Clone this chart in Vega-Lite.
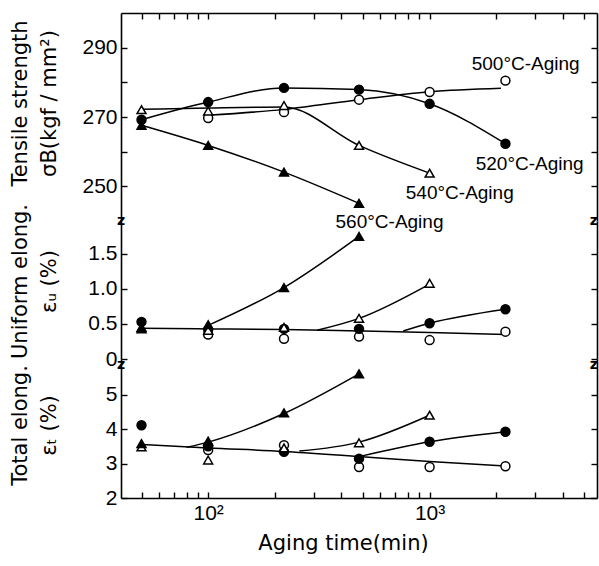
{
  "$schema": "https://vega.github.io/schema/vega-lite/v6.json",
  "padding": {"left": 8, "top": 12, "right": 2, "bottom": 4},
  "spacing": 0,
  "bounds": "flush",
  "config": {
    "view": {"stroke": null},
    "axis": {
      "grid": false,
      "domainColor": "black", "domainWidth": 1.6,
      "tickColor": "black", "tickWidth": 1.4, "tickSize": -6,
      "labelPadding": 10,
      "labelFont": "Liberation Sans", "labelFontSize": 21, "labelColor": "black",
      "titleFont": "DejaVu Sans", "titleFontSize": 21, "titleFontWeight": "normal", "titleColor": "black",
      "labelOverlap": false, "labelFlush": false
    }
  },
  "datasets": {
    "points": [
      {"panel": "T", "series": "500", "time": 100, "value": 269.7},
      {"panel": "T", "series": "500", "time": 220, "value": 271.4},
      {"panel": "T", "series": "500", "time": 480, "value": 275.0},
      {"panel": "T", "series": "500", "time": 1000, "value": 277.2},
      {"panel": "T", "series": "500", "time": 2200, "value": 280.5},
      {"panel": "T", "series": "520", "time": 50, "value": 269.2},
      {"panel": "T", "series": "520", "time": 100, "value": 274.3},
      {"panel": "T", "series": "520", "time": 220, "value": 278.4},
      {"panel": "T", "series": "520", "time": 480, "value": 277.9},
      {"panel": "T", "series": "520", "time": 1000, "value": 273.8},
      {"panel": "T", "series": "520", "time": 2200, "value": 262.3},
      {"panel": "T", "series": "540", "time": 50, "value": 272.1},
      {"panel": "T", "series": "540", "time": 100, "value": 271.7},
      {"panel": "T", "series": "540", "time": 220, "value": 273.3},
      {"panel": "T", "series": "540", "time": 480, "value": 261.8},
      {"panel": "T", "series": "540", "time": 1000, "value": 253.8},
      {"panel": "T", "series": "560", "time": 50, "value": 267.6},
      {"panel": "T", "series": "560", "time": 100, "value": 261.8},
      {"panel": "T", "series": "560", "time": 220, "value": 254.1},
      {"panel": "T", "series": "560", "time": 480, "value": 245.1},
      {"panel": "U", "series": "500", "time": 100, "value": 0.35},
      {"panel": "U", "series": "500", "time": 220, "value": 0.29},
      {"panel": "U", "series": "500", "time": 480, "value": 0.32},
      {"panel": "U", "series": "500", "time": 1000, "value": 0.27},
      {"panel": "U", "series": "500", "time": 2200, "value": 0.39},
      {"panel": "U", "series": "520", "time": 50, "value": 0.53},
      {"panel": "U", "series": "520", "time": 100, "value": 0.42},
      {"panel": "U", "series": "520", "time": 220, "value": 0.43},
      {"panel": "U", "series": "520", "time": 480, "value": 0.43},
      {"panel": "U", "series": "520", "time": 1000, "value": 0.51},
      {"panel": "U", "series": "520", "time": 2200, "value": 0.71},
      {"panel": "U", "series": "540", "time": 50, "value": 0.43},
      {"panel": "U", "series": "540", "time": 100, "value": 0.41},
      {"panel": "U", "series": "540", "time": 220, "value": 0.45},
      {"panel": "U", "series": "540", "time": 480, "value": 0.58},
      {"panel": "U", "series": "540", "time": 1000, "value": 1.08},
      {"panel": "U", "series": "560", "time": 50, "value": 0.45},
      {"panel": "U", "series": "560", "time": 100, "value": 0.49},
      {"panel": "U", "series": "560", "time": 220, "value": 1.02},
      {"panel": "U", "series": "560", "time": 480, "value": 1.75},
      {"panel": "E", "series": "500", "time": 100, "value": 3.39},
      {"panel": "E", "series": "500", "time": 220, "value": 3.53},
      {"panel": "E", "series": "500", "time": 480, "value": 2.90},
      {"panel": "E", "series": "500", "time": 1000, "value": 2.90},
      {"panel": "E", "series": "500", "time": 2200, "value": 2.92},
      {"panel": "E", "series": "520", "time": 50, "value": 4.11},
      {"panel": "E", "series": "520", "time": 100, "value": 3.5},
      {"panel": "E", "series": "520", "time": 220, "value": 3.34},
      {"panel": "E", "series": "520", "time": 480, "value": 3.14},
      {"panel": "E", "series": "520", "time": 1000, "value": 3.63},
      {"panel": "E", "series": "520", "time": 2200, "value": 3.92},
      {"panel": "E", "series": "540", "time": 50, "value": 3.48},
      {"panel": "E", "series": "540", "time": 100, "value": 3.10},
      {"panel": "E", "series": "540", "time": 220, "value": 3.45},
      {"panel": "E", "series": "540", "time": 480, "value": 3.60},
      {"panel": "E", "series": "540", "time": 1000, "value": 4.40},
      {"panel": "E", "series": "560", "time": 50, "value": 3.58},
      {"panel": "E", "series": "560", "time": 100, "value": 3.65},
      {"panel": "E", "series": "560", "time": 220, "value": 4.47},
      {"panel": "E", "series": "560", "time": 480, "value": 5.60}
    ],
    "curves": [
      {"panel": "T", "curve": "500", "time": 100, "value": 270.5},
      {"panel": "T", "curve": "500", "time": 220, "value": 272.2},
      {"panel": "T", "curve": "500", "time": 480, "value": 275.0},
      {"panel": "T", "curve": "500", "time": 1000, "value": 277.3},
      {"panel": "T", "curve": "500", "time": 2100, "value": 278.3},
      {"panel": "T", "curve": "520", "time": 50, "value": 269.2},
      {"panel": "T", "curve": "520", "time": 100, "value": 274.3},
      {"panel": "T", "curve": "520", "time": 220, "value": 278.4},
      {"panel": "T", "curve": "520", "time": 480, "value": 277.9},
      {"panel": "T", "curve": "520", "time": 1000, "value": 273.8},
      {"panel": "T", "curve": "520", "time": 2200, "value": 262.3},
      {"panel": "T", "curve": "540", "time": 50, "value": 272.2},
      {"panel": "T", "curve": "540", "time": 100, "value": 272.6},
      {"panel": "T", "curve": "540", "time": 220, "value": 272.9},
      {"panel": "T", "curve": "540", "time": 480, "value": 261.8},
      {"panel": "T", "curve": "540", "time": 1000, "value": 253.8},
      {"panel": "T", "curve": "560", "time": 50, "value": 267.6},
      {"panel": "T", "curve": "560", "time": 100, "value": 261.8},
      {"panel": "T", "curve": "560", "time": 220, "value": 254.1},
      {"panel": "T", "curve": "560", "time": 480, "value": 245.1},
      {"panel": "U", "curve": "common", "time": 50, "value": 0.44},
      {"panel": "U", "curve": "common", "time": 100, "value": 0.43},
      {"panel": "U", "curve": "common", "time": 220, "value": 0.42},
      {"panel": "U", "curve": "common", "time": 480, "value": 0.40},
      {"panel": "U", "curve": "common", "time": 1000, "value": 0.38},
      {"panel": "U", "curve": "common", "time": 2200, "value": 0.35},
      {"panel": "U", "curve": "520", "time": 760, "value": 0.40},
      {"panel": "U", "curve": "520", "time": 1000, "value": 0.51},
      {"panel": "U", "curve": "520", "time": 2200, "value": 0.71},
      {"panel": "U", "curve": "540", "time": 310, "value": 0.41},
      {"panel": "U", "curve": "540", "time": 480, "value": 0.58},
      {"panel": "U", "curve": "540", "time": 1000, "value": 1.07},
      {"panel": "U", "curve": "560", "time": 100, "value": 0.48},
      {"panel": "U", "curve": "560", "time": 220, "value": 1.02},
      {"panel": "U", "curve": "560", "time": 480, "value": 1.75},
      {"panel": "E", "curve": "common", "time": 50, "value": 3.55},
      {"panel": "E", "curve": "common", "time": 100, "value": 3.45},
      {"panel": "E", "curve": "common", "time": 220, "value": 3.35},
      {"panel": "E", "curve": "common", "time": 480, "value": 3.2},
      {"panel": "E", "curve": "common", "time": 1000, "value": 3.06},
      {"panel": "E", "curve": "common", "time": 2200, "value": 2.93},
      {"panel": "E", "curve": "520", "time": 480, "value": 3.2},
      {"panel": "E", "curve": "520", "time": 1000, "value": 3.63},
      {"panel": "E", "curve": "520", "time": 2200, "value": 3.92},
      {"panel": "E", "curve": "540", "time": 258, "value": 3.36},
      {"panel": "E", "curve": "540", "time": 480, "value": 3.62},
      {"panel": "E", "curve": "540", "time": 1000, "value": 4.40},
      {"panel": "E", "curve": "560", "time": 80, "value": 3.47},
      {"panel": "E", "curve": "560", "time": 100, "value": 3.62},
      {"panel": "E", "curve": "560", "time": 220, "value": 4.45},
      {"panel": "E", "curve": "560", "time": 480, "value": 5.6}
    ],
    "labels": [
      {"panel": "T", "text": "500°C-Aging", "time": 2716, "value": 285.2},
      {"panel": "T", "text": "520°C-Aging", "time": 2830, "value": 256.3},
      {"panel": "T", "text": "540°C-Aging", "time": 1368, "value": 248.2},
      {"panel": "U", "text": "560°C-Aging", "time": 659, "value": 1.96}
    ],
    "breaks": [
      {"time": 40.4, "value": 1.97},
      {"time": 40.4, "value": -0.08},
      {"time": 5520, "value": 1.97},
      {"time": 5520, "value": -0.08}
    ]
  },
  "vconcat": [
    {
      "width": 476, "height": 208,
      "layer": [
        {
          "data": {"name": "curves"},
          "transform": [{"filter": "datum.panel == 'T'"}],
          "mark": {"type": "line", "interpolate": "monotone", "color": "black", "strokeWidth": 1.5},
          "encoding": {
            "x": {"field": "time", "type": "quantitative", "scale": {"type": "log", "domain": [40.4, 5700], "nice": false},
                  "axis": {"orient": "top", "values": [50,60,70,80,90,100,200,300,400,500,600,700,800,900,1000,2000,3000,4000,5000], "labels": false, "title": null}},
            "y": {"field": "value", "type": "quantitative", "scale": {"domain": [240, 300], "nice": false, "zero": false},
                  "axis": {"orient": "left", "values": [250,260,270,280,290], "labelExpr": "datum.value % 20 == 10 ? datum.label : ''",
                           "title": ["Tensile strength", "σB(kgf / mm²)"], "titleX": -95, "titleY": 90, "titleAngle": -90, "titleAlign": "center", "titleBaseline": "alphabetic", "titleLineHeight": 29}},
            "detail": {"field": "curve"}
          }
        },
        {
          "data": {"name": "points"},
          "transform": [{"filter": "datum.panel == 'T'"}],
          "mark": {"type": "point", "filled": true, "stroke": "black", "strokeWidth": 1.5, "size": 80, "opacity": 1},
          "encoding": {
            "x": {"field": "time", "type": "quantitative", "scale": {"type": "log", "domain": [40.4, 5700], "nice": false}, "axis": null},
            "y": {"field": "value", "type": "quantitative", "scale": {"domain": [240, 300], "nice": false, "zero": false},
                  "axis": {"orient": "right", "values": [250,260,270,280,290], "labels": false, "title": null}},
            "shape": {"field": "series", "scale": {"domain": ["500","520","540","560"], "range": ["circle","circle","triangle-up","triangle-up"]}, "legend": null},
            "fill": {"field": "series", "scale": {"domain": ["500","520","540","560"], "range": ["white","black","white","black"]}, "legend": null}
          }
        },
        {
          "data": {"name": "labels"},
          "transform": [{"filter": "datum.panel == 'T'"}],
          "mark": {"type": "text", "font": "Liberation Sans", "fontSize": 19, "color": "black", "align": "center", "baseline": "middle"},
          "encoding": {
            "x": {"field": "time", "type": "quantitative", "scale": {"type": "log", "domain": [40.4, 5700], "nice": false}, "axis": null},
            "y": {"field": "value", "type": "quantitative", "scale": {"domain": [240, 300], "nice": false, "zero": false}, "axis": null},
            "text": {"field": "text"}
          }
        }
      ],
      "resolve": {"axis": {"x": "independent", "y": "independent"}}
    },
    {
      "width": 476, "height": 138,
      "layer": [
        {
          "data": {"name": "curves"},
          "transform": [{"filter": "datum.panel == 'U'"}],
          "mark": {"type": "line", "interpolate": "monotone", "color": "black", "strokeWidth": 1.5},
          "encoding": {
            "x": {"field": "time", "type": "quantitative", "scale": {"type": "log", "domain": [40.4, 5700], "nice": false}, "axis": null},
            "y": {"field": "value", "type": "quantitative", "scale": {"domain": [0, 1.97], "nice": false, "zero": false},
                  "axis": {"orient": "left", "values": [0, 0.5, 1, 1.5], "labelExpr": "datum.value == 0 ? '0' : format(datum.value, '.1f')",
                           "title": ["Uniform elong.", "εᵤ (%)"], "titleX": -95, "titleY": 60, "titleAngle": -90, "titleAlign": "center", "titleBaseline": "alphabetic", "titleLineHeight": 29}},
            "detail": {"field": "curve"}
          }
        },
        {
          "data": {"name": "points"},
          "transform": [{"filter": "datum.panel == 'U'"}],
          "mark": {"type": "point", "filled": true, "stroke": "black", "strokeWidth": 1.5, "size": 80, "opacity": 1},
          "encoding": {
            "x": {"field": "time", "type": "quantitative", "scale": {"type": "log", "domain": [40.4, 5700], "nice": false}, "axis": null},
            "y": {"field": "value", "type": "quantitative", "scale": {"domain": [0, 1.97], "nice": false, "zero": false},
                  "axis": {"orient": "right", "values": [0, 0.5, 1, 1.5], "labels": false, "title": null}},
            "shape": {"field": "series", "scale": {"domain": ["500","520","540","560"], "range": ["circle","circle","triangle-up","triangle-up"]}, "legend": null},
            "fill": {"field": "series", "scale": {"domain": ["500","520","540","560"], "range": ["white","black","white","black"]}, "legend": null}
          }
        },
        {
          "data": {"name": "labels"},
          "transform": [{"filter": "datum.panel == 'U'"}],
          "mark": {"type": "text", "font": "Liberation Sans", "fontSize": 19, "color": "black", "align": "center", "baseline": "middle"},
          "encoding": {
            "x": {"field": "time", "type": "quantitative", "scale": {"type": "log", "domain": [40.4, 5700], "nice": false}, "axis": null},
            "y": {"field": "value", "type": "quantitative", "scale": {"domain": [0, 1.97], "nice": false, "zero": false}, "axis": null},
            "text": {"field": "text"}
          }
        },
        {
          "data": {"name": "breaks"},
          "mark": {"type": "text", "text": "z", "font": "DejaVu Sans", "fontSize": 14, "fontWeight": "bold", "color": "black", "align": "center", "baseline": "middle"},
          "encoding": {
            "x": {"field": "time", "type": "quantitative", "scale": {"type": "log", "domain": [40.4, 5700], "nice": false}, "axis": null},
            "y": {"field": "value", "type": "quantitative", "scale": {"domain": [0, 1.97], "nice": false, "zero": false}, "axis": null}
          }
        }
      ],
      "resolve": {"axis": {"x": "independent", "y": "independent"}}
    },
    {
      "width": 476, "height": 139,
      "layer": [
        {
          "data": {"name": "curves"},
          "transform": [{"filter": "datum.panel == 'E'"}],
          "mark": {"type": "line", "interpolate": "monotone", "color": "black", "strokeWidth": 1.5},
          "encoding": {
            "x": {"field": "time", "type": "quantitative", "scale": {"type": "log", "domain": [40.4, 5700], "nice": false},
                  "axis": {"orient": "bottom", "values": [50,60,70,80,90,100,200,300,400,500,600,700,800,900,1000,2000,3000,4000,5000],
                           "labelExpr": "datum.value == 100 ? '10²' : datum.value == 1000 ? '10³' : ''", "labelDx": 4,
                           "title": "Aging time(min)", "titleX": 222, "titleY": 51, "titleBaseline": "alphabetic"}},
            "y": {"field": "value", "type": "quantitative", "scale": {"domain": [2, 6.03], "nice": false, "zero": false},
                  "axis": {"orient": "left", "values": [2, 3, 4, 5],
                           "title": ["Total elong.", "εₜ (%)"], "titleX": -95, "titleY": 66, "titleAngle": -90, "titleAlign": "center", "titleBaseline": "alphabetic", "titleLineHeight": 29}},
            "detail": {"field": "curve"}
          }
        },
        {
          "data": {"name": "points"},
          "transform": [{"filter": "datum.panel == 'E'"}],
          "mark": {"type": "point", "filled": true, "stroke": "black", "strokeWidth": 1.5, "size": 80, "opacity": 1},
          "encoding": {
            "x": {"field": "time", "type": "quantitative", "scale": {"type": "log", "domain": [40.4, 5700], "nice": false}, "axis": null},
            "y": {"field": "value", "type": "quantitative", "scale": {"domain": [2, 6.03], "nice": false, "zero": false},
                  "axis": {"orient": "right", "values": [2, 3, 4, 5], "labels": false, "title": null}},
            "shape": {"field": "series", "scale": {"domain": ["500","520","540","560"], "range": ["circle","circle","triangle-up","triangle-up"]}, "legend": null},
            "fill": {"field": "series", "scale": {"domain": ["500","520","540","560"], "range": ["white","black","white","black"]}, "legend": null}
          }
        }
      ],
      "resolve": {"axis": {"x": "independent", "y": "independent"}}
    }
  ]
}
